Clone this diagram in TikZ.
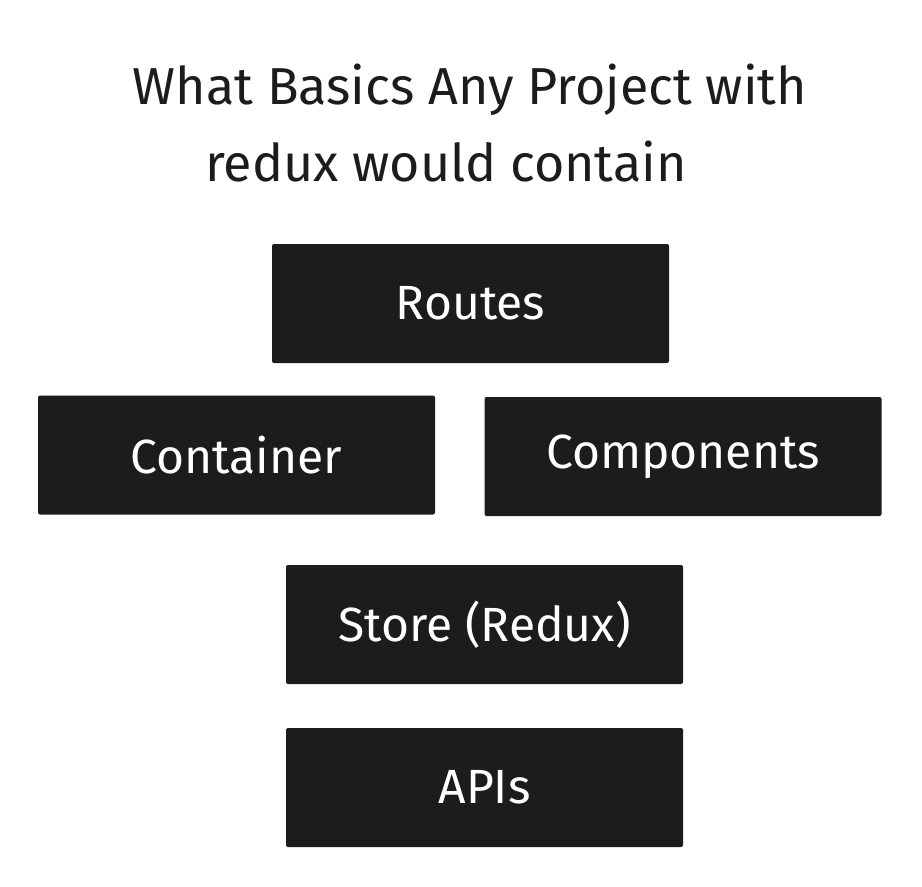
\documentclass[tikz,border=0pt]{standalone}
\usepackage{fontspec}
\setmainfont{Fira Sans}
\definecolor{boxblack}{HTML}{1C1C1C}
\begin{document}
\begin{tikzpicture}[x=1pt,y=-1pt,
		part/.style={fill=boxblack,rounded corners=2pt,minimum width=397pt,minimum height=119pt,text=white,font=\fontsize{48}{56}\selectfont,inner sep=0pt},
		heading/.style={anchor=base,text=boxblack,font=\fontsize{52}{60}\selectfont,inner sep=0pt}]
		\useasboundingbox (0,0) rectangle (922,887);
		\node[heading] (line1) at (470,104) {What Basics Any Project with};
		\node[heading] (line2) at (446,181) {redux would contain};
		\node[part] (routes) at (470.5,303.5) {Routes};
		\node[part] (container) at (236.5,455) {Container};
		\node[part] (components) at (683,456.5) {Components};
		\node[part] (store) at (484.5,624.5) {Store (Redux)};
		\node[part] (apis) at (484.5,787.5) {APIs};
		\end{tikzpicture}
\end{document}
